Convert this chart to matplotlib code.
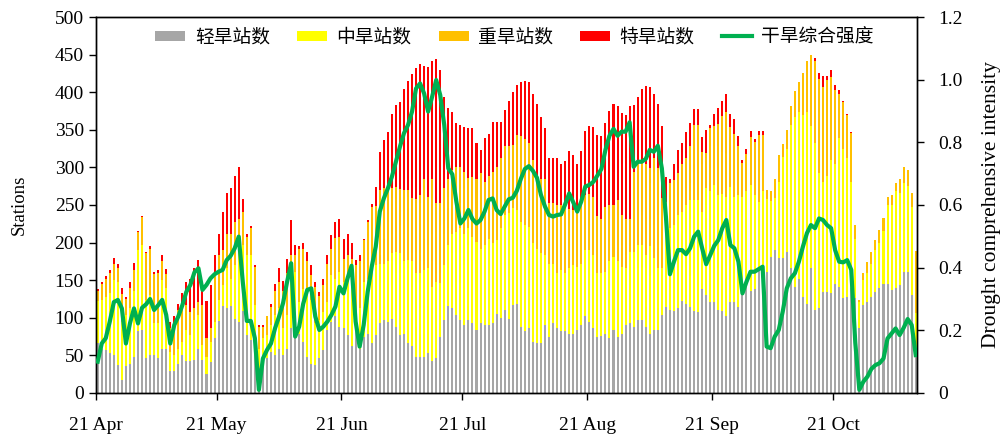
import numpy as np
import pandas as pd
import matplotlib
matplotlib.use("Agg")
import matplotlib.pyplot as plt
import matplotlib.dates as mdates
from matplotlib.patches import Patch
from matplotlib.lines import Line2D

plt.rcParams['font.family'] = ['Liberation Serif', 'Noto Sans CJK SC']

# daily values from 21 Apr, 204 days
start_day = "2023-04-21"

light = [66, 59, 57, 53, 50, 37, 17, 36, 38, 48, 82, 84, 46, 51, 50, 46, 59, 59, 29, 29,
         39, 50, 42, 43, 44, 59, 44, 25, 41, 73, 96, 116, 113, 116, 99, 95, 109, 77, 70, 51,
         33, 42, 46, 55, 51, 59, 51, 59, 86, 79, 78, 68, 48, 39, 37, 46, 57, 84, 95, 102,
         88, 86, 77, 62, 88, 59, 75, 79, 66, 77, 93, 97, 95, 99, 88, 77, 79, 66, 62, 48,
         48, 48, 53, 43, 46, 75, 97, 116, 113, 104, 97, 91, 97, 93, 84, 93, 90, 90, 93, 105,
         100, 110, 99, 117, 119, 88, 82, 86, 68, 67, 66, 90, 74, 93, 86, 82, 82, 79, 79, 84,
         90, 102, 95, 87, 75, 76, 78, 73, 84, 74, 78, 90, 93, 88, 97, 97, 88, 79, 84, 84,
         104, 114, 111, 109, 113, 122, 118, 114, 109, 108, 138, 130, 121, 121, 110, 109, 103, 121, 121, 115,
         135, 141, 136, 138, 164, 163, 161, 181, 190, 179, 179, 188, 166, 141, 152, 128, 119, 166, 110, 113,
         134, 134, 133, 145, 141, 126, 128, 140, 126, 86, 117, 121, 128, 134, 139, 145, 145, 137, 139, 144,
         161, 161, 130, 60]

moderate = [56, 65, 70, 80, 100, 111, 78, 68, 75, 87, 108, 113, 78, 79, 43, 47, 91, 81, 26, 22,
            20, 18, 42, 34, 53, 45, 20, 23, 27, 22, 28, 28, 53, 36, 71, 97, 88, 107, 114, 66,
            26, 31, 31, 35, 53, 54, 35, 45, 74, 82, 43, 70, 91, 85, 56, 51, 51, 37, 62, 50,
            73, 62, 71, 86, 16, 54, 73, 73, 106, 93, 79, 75, 80, 87, 99, 109, 96, 111, 113, 111,
            111, 116, 113, 98, 102, 71, 73, 81, 99, 110, 122, 121, 122, 115, 117, 99, 107, 115, 106, 98,
            119, 127, 140, 129, 124, 140, 141, 135, 131, 125, 120, 94, 98, 79, 73, 82, 77, 87, 91, 84,
            82, 88, 95, 97, 84, 83, 83, 102, 97, 101, 90, 76, 95, 100, 100, 100, 96, 116, 95, 82,
            62, 105, 108, 114, 124, 119, 132, 143, 148, 149, 103, 142, 147, 156, 153, 155, 158, 153, 140, 148,
            126, 127, 141, 125, 90, 106, 97, 74, 69, 102, 135, 137, 190, 226, 222, 242, 255, 189, 222, 180,
            147, 154, 177, 160, 198, 199, 184, 141, 79, 35, 33, 39, 44, 56, 61, 70, 105, 113, 129, 122,
            118, 114, 118, 46]

severe = [14, 21, 24, 26, 22, 18, 36, 21, 26, 29, 24, 37, 62, 62, 65, 66, 26, 18, 31, 42,
          51, 49, 33, 31, 16, 17, 53, 25, 18, 62, 60, 46, 46, 60, 58, 40, 44, 24, 35, 51,
          29, 15, 25, 25, 31, 35, 49, 55, 24, 23, 71, 53, 36, 33, 48, 32, 36, 51, 35, 54,
          46, 30, 36, 30, 66, 62, 55, 75, 76, 79, 98, 100, 93, 87, 87, 85, 95, 93, 84, 99,
          104, 121, 94, 144, 104, 106, 103, 88, 85, 87, 81, 82, 67, 79, 84, 100, 84, 83, 95, 98,
          93, 91, 89, 84, 100, 114, 115, 111, 111, 93, 99, 101, 80, 80, 91, 86, 91, 79, 73, 73,
          85, 73, 75, 77, 76, 73, 87, 75, 69, 82, 69, 66, 44, 106, 108, 111, 121, 104, 133, 133,
          93, 35, 60, 60, 55, 64, 62, 71, 99, 99, 80, 47, 84, 78, 95, 104, 113, 80, 84, 65,
          45, 50, 63, 71, 89, 74, 12, 13, 26, 35, 17, 25, 26, 35, 40, 56, 67, 95, 109, 125,
          126, 128, 110, 98, 58, 62, 58, 65, 18, 3, 10, 14, 15, 14, 17, 18, 11, 13, 11, 18,
          21, 21, 18, 83]

extreme = [2, 3, 4, 5, 7, 6, 9, 2, 8, 9, 2, 1, 2, 3, 3, 4, 7, 7, 8, 9,
           8, 16, 31, 44, 53, 56, 31, 49, 58, 27, 28, 51, 54, 61, 61, 68, 17, 4, 3, 2,
           2, 2, 0, 3, 10, 18, 14, 19, 46, 13, 3, 9, 12, 13, 7, 5, 8, 12, 18, 22,
           24, 27, 27, 22, 7, 9, 2, 3, 3, 25, 50, 64, 79, 98, 109, 116, 134, 145, 165, 174,
           175, 150, 174, 156, 192, 178, 121, 94, 77, 58, 56, 60, 66, 66, 47, 31, 58, 56, 66, 60,
           49, 48, 60, 70, 66, 71, 77, 82, 87, 99, 82, 67, 61, 61, 63, 54, 58, 77, 73, 63,
           65, 85, 90, 93, 108, 110, 111, 125, 134, 125, 136, 138, 149, 89, 89, 96, 103, 108, 86, 85,
           96, 33, 5, 22, 31, 27, 35, 31, 22, 22, 19, 31, 4, 16, 21, 20, 24, 17, 19, 14,
           4, 7, 8, 4, 5, 6, 0, 0, 0, 0, 0, 0, 0, 0, 0, 0, 0, 0, 5, 8,
           14, 6, 9, 7, 6, 1, 1, 1, 0, 0, 0, 0, 1, 0, 0, 0, 0, 0, 0, 0,
           0, 0, 0, 0]

intensity = [0.10, 0.158, 0.175, 0.228, 0.29, 0.297, 0.27, 0.158, 0.222, 0.27,
             0.222, 0.272, 0.283, 0.30, 0.265, 0.28, 0.297, 0.249, 0.158, 0.217,
             0.244, 0.28, 0.323, 0.345, 0.385, 0.398, 0.329, 0.345, 0.366, 0.379,
             0.387, 0.393, 0.424, 0.438, 0.462, 0.499, 0.355, 0.23, 0.23, 0.175,
             0.01, 0.11, 0.137, 0.158, 0.206, 0.244, 0.287, 0.355, 0.414, 0.18,
             0.212, 0.285, 0.329, 0.334, 0.244, 0.201, 0.212, 0.228, 0.249, 0.276,
             0.339, 0.318, 0.366, 0.406, 0.228, 0.148, 0.217, 0.323, 0.403, 0.467,
             0.579, 0.621, 0.653, 0.69, 0.738, 0.786, 0.829, 0.855, 0.898, 0.972,
             0.988, 0.956, 0.898, 0.946, 0.999, 0.951, 0.855, 0.717, 0.698, 0.611,
             0.541, 0.557, 0.584, 0.555, 0.541, 0.552, 0.579, 0.616, 0.621, 0.584,
             0.571, 0.595, 0.618, 0.623, 0.645, 0.683, 0.715, 0.724, 0.709, 0.687,
             0.632, 0.595, 0.568, 0.563, 0.568, 0.570, 0.602, 0.637, 0.609, 0.579,
             0.611, 0.659, 0.664, 0.674, 0.694, 0.715, 0.776, 0.821, 0.843, 0.821,
             0.834, 0.834, 0.864, 0.722, 0.738, 0.738, 0.747, 0.776, 0.770, 0.789,
             0.717, 0.563, 0.379, 0.419, 0.456, 0.456, 0.443, 0.462, 0.499, 0.515,
             0.462, 0.411, 0.440, 0.47, 0.488, 0.526, 0.552, 0.472, 0.462, 0.419,
             0.318, 0.355, 0.387, 0.387, 0.395, 0.403, 0.148, 0.143, 0.18, 0.201,
             0.26, 0.334, 0.366, 0.382, 0.419, 0.467, 0.51, 0.536, 0.526, 0.557,
             0.552, 0.536, 0.526, 0.456, 0.419, 0.417, 0.424, 0.393, 0.16, 0.01,
             0.036, 0.052, 0.077, 0.089, 0.095, 0.11, 0.174, 0.19, 0.206, 0.185,
             0.208, 0.236, 0.217, 0.121]

labels = ['轻旱站数', '中旱站数', '重旱站数', '特旱站数', '干旱综合强度']
colors = ['#A6A6A6', '#FFFF00', '#FFC000', '#FF0000']
line_color = '#00B050'

n = len(light)
days = pd.date_range(start_day, periods=n, freq='D') + pd.Timedelta(hours=12)

fig = plt.figure(figsize=(10.03, 4.34), dpi=100)
ax = fig.add_axes([0.0954, 0.0945, 0.8188, 0.8663])

bottom = np.zeros(n)
for vals, c in zip([light, moderate, severe, extreme], colors):
    ax.bar(days, vals, width=0.5, bottom=bottom, color=c, linewidth=0, zorder=2)
    bottom = bottom + np.array(vals)

ax.set_ylim(0, 500)
ax.set_yticks(range(0, 501, 50))
ax.set_xlim(pd.Timestamp(start_day), pd.Timestamp(start_day) + pd.Timedelta(days=203.8))
ax.xaxis.set_major_locator(mdates.DayLocator(bymonthday=21))
ax.xaxis.set_major_formatter(mdates.DateFormatter('%d %b'))
ax.tick_params(axis='both', direction='out', length=5, width=1, labelsize=14)
ax.tick_params(axis='x', pad=12)
ax.set_ylabel('Stations', fontsize=13.5, labelpad=19)

ax2 = ax.twinx()
ax2.plot(days, intensity, color=line_color, lw=3, zorder=3)
ax2.set_ylim(0, 1.2)
ax2.set_yticks([0, 0.2, 0.4, 0.6, 0.8, 1.0, 1.2])
ax2.set_yticklabels(['0', '0.2', '0.4', '0.6', '0.8', '1.0', '1.2'])
ax2.tick_params(axis='y', direction='out', length=5, width=1, labelsize=14, pad=10)
ax2.set_ylabel('Drought comprehensive intensity', fontsize=15.5, labelpad=14)

for a in (ax, ax2):
    for s in a.spines.values():
        s.set_linewidth(1)

handles = [Patch(facecolor=c, edgecolor='none') for c in colors]
handles.append(Line2D([0], [0], color=line_color, lw=3))
ax2.legend(handles, labels, loc='center', bbox_to_anchor=(0.51, 0.946), ncol=5,
           frameon=False, fontsize=13.5, handlelength=1.6, handleheight=0.45,
           handletextpad=0.5, columnspacing=1.45)

fig.savefig('out.png', dpi=100)
